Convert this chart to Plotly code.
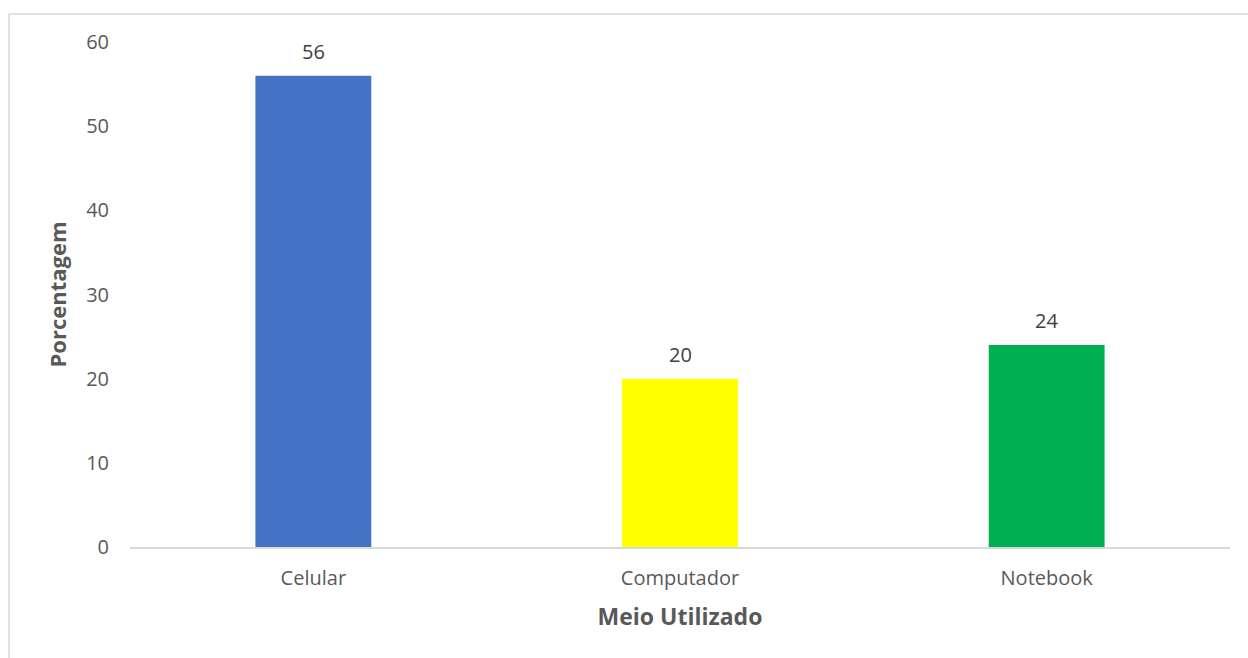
import plotly.graph_objects as go

# Meio utilizado pelos participantes (percentual)
categorias = ["Celular", "Computador", "Notebook"]
porcentagens = [56, 20, 24]
cores = ["#4472C4", "#FFFF00", "#00B050"]

W, H = 1248, 658
ml, mr, mt, mb = 130, 18, 42, 111

fig = go.Figure(
    go.Bar(
        x=categorias,
        y=porcentagens,
        marker=dict(color=cores, line=dict(width=0)),
        width=0.316,
        cliponaxis=False,
    )
)

# Value labels above each bar
for cat, val in zip(categorias, porcentagens):
    fig.add_annotation(x=cat, y=val, text=str(val), showarrow=False,
                       yanchor="bottom", yshift=9,
                       font=dict(size=20, color="#404040"))

pw = W - ml - mr
ph = H - mt - mb

def px_x(x):
    return (x - ml) / pw

def px_y(y):
    return (H - mb - y) / ph

# Chart border
fig.add_shape(type="rect", xref="paper", yref="paper",
              x0=px_x(9), x1=px_x(W + 20), y0=px_y(H + 20), y1=px_y(14),
              line=dict(color="#D9D9D9", width=1.5), fillcolor="rgba(0,0,0,0)",
              layer="below")

font_fam = "Open Sans, Calibri, sans-serif"
fig.update_layout(
    width=W, height=H,
    margin=dict(l=ml, r=mr, t=mt, b=mb),
    paper_bgcolor="white", plot_bgcolor="white",
    font=dict(family=font_fam, size=20, color="#595959"),
    showlegend=False,
    xaxis=dict(
        showline=True, linecolor="#D9D9D9", linewidth=1.5,
        ticks="outside", ticklen=12, tickcolor="rgba(0,0,0,0)",
        tickfont=dict(size=20, color="#595959"),
        title=dict(text="<b>Meio Utilizado</b>", font=dict(size=23, color="#595959"), standoff=19),
        showgrid=False, zeroline=False,
    ),
    yaxis=dict(
        range=[0, 60], dtick=10,
        showline=False, showgrid=False, zeroline=False,
        ticks="outside", ticklen=16, tickcolor="rgba(0,0,0,0)",
        tickfont=dict(size=20, color="#595959"),
        title=dict(text="<b>Porcentagem</b>", font=dict(size=22, color="#595959"), standoff=13),
    ),
)

fig.write_html("out.html")
